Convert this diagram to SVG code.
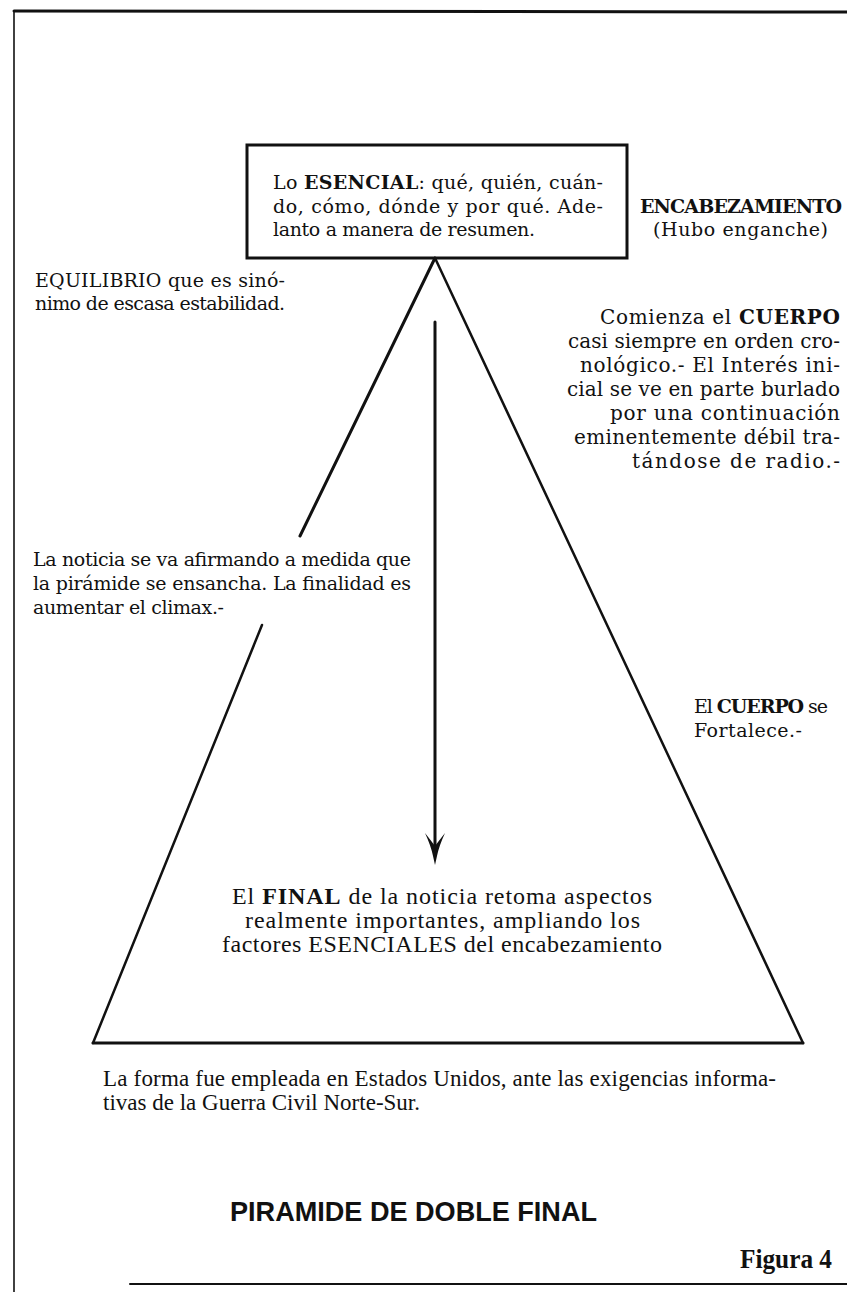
<svg xmlns="http://www.w3.org/2000/svg" width="847" height="1292" viewBox="0 0 847 1292">
<style>
.s{font-family:"DejaVu Serif","Liberation Serif",serif;font-size:19px;fill:#111}
.r{font-size:20px}
.t{font-family:"Liberation Serif","Times New Roman",serif;font-size:24px;fill:#111}
.b{font-weight:bold}
.ln{stroke:#111;fill:none;stroke-linecap:round}
.h{font-family:"Liberation Sans",Arial,sans-serif;font-size:28px;font-weight:bold;fill:#111}
.fig{font-family:"Liberation Serif","Times New Roman",serif;font-size:27px;font-weight:bold;fill:#111}
</style>
<rect width="847" height="1292" fill="#fff"/>
<g id="frame">
<line class="ln" x1="14" y1="11" x2="847" y2="12" stroke-width="3"/>
<line class="ln" x1="14" y1="11" x2="14" y2="1292" stroke-width="1.6"/>
<line class="ln" x1="130" y1="1284" x2="847" y2="1284" stroke-width="2"/>
</g>
<g id="connectors">
<line class="ln" x1="435" y1="258" x2="300" y2="536" stroke-width="3"/>
<line class="ln" x1="262" y1="625" x2="93" y2="1043" stroke-width="2.5"/>
<line class="ln" x1="435" y1="258" x2="803" y2="1043" stroke-width="2.5"/>
<line class="ln" x1="93" y1="1043" x2="803" y2="1043" stroke-width="3"/>
<line class="ln" x1="435" y1="322" x2="435" y2="850" stroke-width="3"/>
<path d="M425,833 Q432,842 435,846 Q438,842 445,833 Q439,846 437,856 L435,865 L433,856 Q431,846 425,833 Z" fill="#111"/>
</g>
<g id="node-esencial">
<rect x="247" y="145" width="380" height="113" fill="none" stroke="#111" stroke-width="3"/>
<text class="s" x="273" y="189" textLength="330" lengthAdjust="spacing">Lo <tspan class="b">ESENCIAL</tspan>: qué, quién, cuán-</text>
<text class="s" x="273" y="213" textLength="330" lengthAdjust="spacing">do, cómo, dónde y por qué. Ade-</text>
<text class="s" x="273" y="236" textLength="262" lengthAdjust="spacing">lanto a manera de resumen.</text>
</g>
<g id="node-encabezamiento">
<text class="s b" x="640" y="213" textLength="202" lengthAdjust="spacing">ENCABEZAMIENTO</text>
<text class="s" x="653" y="236" textLength="175" lengthAdjust="spacing">(Hubo enganche)</text>
</g>
<g id="node-equilibrio">
<text class="s" x="35" y="287" textLength="250" lengthAdjust="spacing">EQUILIBRIO que es sinó-</text>
<text class="s" x="35" y="310" textLength="250" lengthAdjust="spacing">nimo de escasa estabilidad.</text>
</g>
<g id="node-cuerpo">
<text class="s r" x="840" y="324" text-anchor="end" textLength="240" lengthAdjust="spacing">Comienza el <tspan class="b">CUERPO</tspan></text>
<text class="s r" x="840" y="348" text-anchor="end" textLength="272" lengthAdjust="spacing">casi siempre en orden cro-</text>
<text class="s r" x="840" y="372" text-anchor="end" textLength="260" lengthAdjust="spacing">nológico.- El Interés ini-</text>
<text class="s r" x="840" y="396" text-anchor="end" textLength="273" lengthAdjust="spacing">cial se ve en parte burlado</text>
<text class="s r" x="840" y="420" text-anchor="end" textLength="230" lengthAdjust="spacing">por una continuación</text>
<text class="s r" x="840" y="444" text-anchor="end" textLength="266" lengthAdjust="spacing">eminentemente débil tra-</text>
<text class="s r" x="840" y="468" text-anchor="end" textLength="208" lengthAdjust="spacing">tándose de radio.-</text>
</g>
<g id="node-noticia">
<text class="s" x="33" y="566" textLength="378" lengthAdjust="spacing">La noticia se va afirmando a medida que</text>
<text class="s" x="33" y="590" textLength="378" lengthAdjust="spacing">la pirámide se ensancha. La finalidad es</text>
<text class="s" x="33" y="614" textLength="191" lengthAdjust="spacing">aumentar el climax.-</text>
</g>
<g id="node-fortalece">
<text class="s" x="694" y="713" textLength="134" lengthAdjust="spacing">El <tspan class="b">CUERPO</tspan> se</text>
<text class="s" x="694" y="737" textLength="108" lengthAdjust="spacing">Fortalece.-</text>
</g>
<g id="node-final">
<text class="t" x="232" y="904" textLength="420" lengthAdjust="spacing">El <tspan class="b">FINAL</tspan> de la noticia retoma aspectos</text>
<text class="t" x="245" y="928" textLength="395" lengthAdjust="spacing">realmente importantes, ampliando los</text>
<text class="t" x="222" y="952" textLength="440" lengthAdjust="spacing">factores ESENCIALES del encabezamiento</text>
</g>
<g id="note">
<text class="t" x="103" y="1086" style="font-size:23px" textLength="673" lengthAdjust="spacing">La forma fue empleada en Estados Unidos, ante las exigencias informa-</text>
<text class="t" x="103" y="1110" style="font-size:23px" textLength="317" lengthAdjust="spacing">tivas de la Guerra Civil Norte-Sur.</text>
</g>
<g id="title">
<text class="h" x="230" y="1221" textLength="367" lengthAdjust="spacingAndGlyphs">PIRAMIDE DE DOBLE FINAL</text>
<text class="fig" x="740" y="1268" textLength="92" lengthAdjust="spacingAndGlyphs">Figura 4</text>
</g>
</svg>
